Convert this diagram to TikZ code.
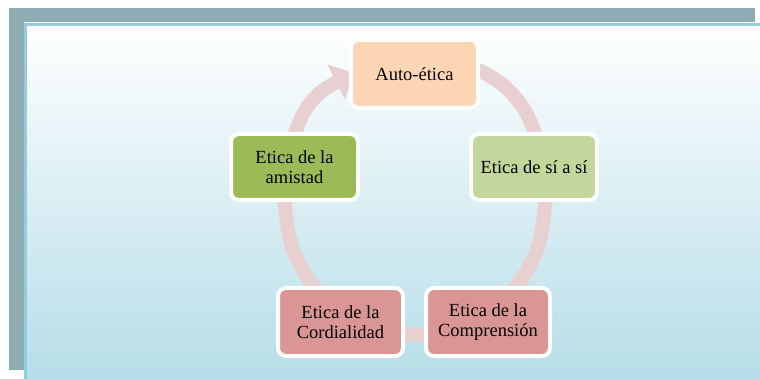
\documentclass[tikz,border=0pt]{standalone}
\usepackage{fontspec}
\setmainfont{Liberation Serif}
\usepackage{tikz}
\usetikzlibrary{arrows.meta}

\definecolor{framegray}{RGB}{143,171,179}
\definecolor{panelline}{RGB}{146,205,220}
\definecolor{panelbot}{RGB}{182,221,232}
\definecolor{ringpink}{RGB}{232,208,209}
\definecolor{autofill}{RGB}{252,213,181}
\definecolor{sifill}{RGB}{195,214,155}
\definecolor{amisfill}{RGB}{155,187,89}
\definecolor{rosefill}{RGB}{218,150,148}

\tikzset{
  etbox/.style={draw=white, line width=4pt, rounded corners=8pt, inner sep=0pt,
    align=center, minimum height=68pt, font=\fontsize{18.5}{20}\selectfont}
}

\begin{document}
\begin{tikzpicture}[x=1pt,y=-1pt]
			\useasboundingbox (0,0) rectangle (760,379);
			\fill[white] (0,0) rectangle (760,379);
			
			% Серая рамка
			\fill[framegray] (9,8) rectangle (755,370);
			
			% Панель с градиентом
			\shade[top color=white, bottom color=panelbot] (24,23) rectangle (760,379);
			\draw[panelline, line width=3pt] (25.5,379) -- (25.5,24.5) -- (760,24.5);
			
			% Кольцо со стрелкой
			\draw[ringpink, line width=14pt, -{Triangle[width=38pt,length=20pt]}]
			  plot[smooth] coordinates {(447,61.8) (480.3,71) (506.3,87.8) (525.8,112)
			  (538.7,143.5) (543.4,169.3) (545,205) (537.2,249.5) (514.6,288.6) (480,317.6)
			  (437.6,333) (392.4,333) (350,317.6) (315.4,288.6) (292.8,249.5) (285,205)
			  (286.6,169.3) (291.3,143.5) (304.2,112) (322,91) (354,73)};
			
			% Блоки
			\node[etbox, fill=autofill, minimum width=127pt] (auto) at (414.5,74) {Auto-ética};
			\node[etbox, fill=sifill, minimum width=126pt, minimum height=66pt] (siasi) at (534,167) {Etica de sí a sí};
			\node[etbox, fill=amisfill, minimum width=127pt, minimum height=66pt] (amistad) at (294.5,167) {Etica de la\\amistad};
			\node[etbox, fill=rosefill, minimum width=125pt] (cordial) at (340.5,322) {Etica de la\\Cordialidad};
			\node[etbox, fill=rosefill, minimum width=124pt] (compren) at (488,322) {Etica de la\\Comprensión};
		\end{tikzpicture}
\end{document}
